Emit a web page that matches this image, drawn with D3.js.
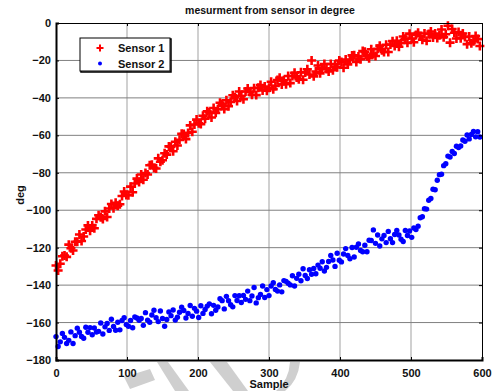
<!DOCTYPE html>
<html>
<head>
<meta charset="utf-8">
<script src="https://cdn.jsdelivr.net/npm/d3@7"></script>
<style>
  body { margin: 0; background: #fff; }
  svg text { font-family: "Liberation Sans", Arial, sans-serif; font-weight: bold; fill: #111; }
</style>
</head>
<body>
<div id="chart"></div>
<script>
// sample numbers (every 3rd sample shown)
const samples = d3.range(0, 600, 3);

// Sensor 1, deg
const sensor1 = [
  -129.5, -132.2, -128.6, -124.6, -124.2, -124.9, -118.4, -120.3, -121.5, -116.8,
  -116.8, -113, -116.4, -114, -110.3, -108.1, -110.9, -108.1, -109.6, -104.6,
  -102.7, -103.8, -104.7, -100.6, -103.6, -99.1, -96.7, -98.9, -96, -97.6,
  -96.8, -92.4, -90, -91.9, -92, -87.4, -90.4, -85.7, -83.1, -84.9,
  -80.9, -83.7, -80.1, -80.9, -76, -75.7, -77.4, -77.7, -72.3, -74.1,
  -73.3, -69.6, -70.3, -65.9, -66.1, -68.5, -63.4, -65.4, -62.4, -59.2,
  -59.3, -62, -58.7, -54.7, -58.1, -54.2, -51.6, -53.6, -54, -49.5,
  -51.1, -47.2, -47.8, -50.5, -45.4, -48, -46.1, -42.6, -43.2, -46,
  -41.3, -44.4, -42.2, -38.6, -39.6, -41.7, -36.6, -39, -40.7, -36.6,
  -35, -36.8, -38.3, -34.8, -38.5, -34.6, -33.1, -36, -33.9, -36.2,
  -34.6, -31.4, -35.4, -33.6, -30.5, -29.3, -32.8, -30.6, -32.7, -28.3,
  -32.1, -28.3, -26.6, -29.1, -30, -26.3, -30.3, -26.4, -24.7, -27.5,
  -20, -28.5, -25.9, -22.7, -26.9, -23.9, -21.9, -24.6, -25.9, -21.9,
  -25.2, -22.2, -23.7, -20, -20.8, -23.9, -19.5, -22.1, -19.8, -17.3,
  -17.2, -20.8, -17.9, -19.3, -15, -15.4, -17.7, -18.8, -14, -16.4,
  -17.6, -13.8, -12.1, -14.6, -15.5, -11.6, -15.5, -11.5, -9.7, -12.3,
  -9.5, -12.7, -10.7, -7.2, -8.4, -10.6, -5.7, -8.3, -10.3, -6.4,
  -5.2, -7.1, -8.9, -5.6, -9.5, -5.9, -4.5, -7.7, -5.6, -8,
  -6.6, -3.5, -7.6, -6, -1.5, -10.5, -3.2, -5.2, -8.3, -4.8,
  -8.1, -5.6, -7.5, -11.3, -7.2, -10.8, -9.7, -7, -8.6, -12.3
];

// Sensor 2, deg
const sensor2 = [
  -167.5, -172.8, -170.3, -165.8, -167.9, -171.2, -169.5, -165, -171.2, -167,
  -163, -165.2, -167.4, -168.4, -162.5, -165.2, -162.7, -166.5, -162.9, -165.1,
  -164.7, -160.2, -166.1, -162.3, -160.5, -164.2, -158.2, -162.1, -164.1, -159.8,
  -163.9, -158.9, -157.4, -161.1, -162, -158.9, -162.8, -157, -157.6, -158.8,
  -157.8, -161.5, -154.7, -158.7, -159.8, -156, -153.4, -157.4, -159.5, -153.8,
  -157.8, -162, -158.4, -154.3, -156.3, -153.3, -158.7, -157.2, -154.5, -151.8,
  -153.6, -157.6, -155.1, -150.9, -156.6, -152.4, -153.9, -157.3, -151, -155.1,
  -153, -151.2, -150, -155.3, -150.8, -153.4, -151.7, -147.3, -148.3, -152.7,
  -146, -148.3, -150.5, -151.6, -145.6, -148.2, -145.7, -149.3, -145.5, -147.6,
  -143.2, -148.3, -145.8, -141.3, -149.5, -146.7, -145, -140.5, -146.6, -142.4,
  -145.6, -140.5, -138.7, -142.3, -143.2, -139.9, -143.6, -137.6, -138, -139,
  -139.9, -135, -140.5, -136.4, -134.2, -137.7, -131.3, -134.8, -136.5, -131.8,
  -134.2, -131.1, -133.9, -129.3, -131, -127.5, -132.5, -130.5, -127.4, -124.2,
  -126.6, -130, -123, -126.7, -127.6, -123.4, -120.5, -124.2, -125.9, -119.9,
  -125, -119.8, -118, -121.5, -122.2, -118.7, -122.2, -116, -116.2, -110.5,
  -117.7, -113.2, -119.1, -115.3, -113.5, -117.3, -111.3, -115.2, -117.3, -113,
  -110.8, -113.2, -115.5, -116.7, -110.8, -113.5, -111.1, -114.5, -109.5, -110.3,
  -108.5, -104, -103.5, -99.2, -99.4, -94.7, -93.7, -88.8, -89.1, -84,
  -81, -80.8, -76.2, -75.2, -71.1, -71.6, -68.6, -69.7, -65.8, -66.5,
  -65.7, -62.5, -63.2, -59.8, -61.9, -59.5, -57.9, -60.8, -58.1, -60.9
];

const xTicks = [0, 100, 200, 300, 400, 500, 600];
const yTicks = [-180, -160, -140, -120, -100, -80, -60, -40, -20, 0];
const seriesNames = ["Sensor 1", "Sensor 2"];

const W = 496, H = 391;
const pLeft = 56, pRight = 482, pTop = 23, pBottom = 360;

const svg = d3.select("#chart").append("svg")
  .attr("width", W).attr("height", H);

// faint watermark shapes peeking out below the axes
const mark = svg.append("g").attr("fill", "#cfcfcf");
mark.append("path").attr("d", "M157,362L168,362L189,391L175,391Z");
mark.append("path").attr("d", "M124,377L150,369L155,380L130,389Z");
mark.append("path").attr("d", "M210,362L227,362L248,391L233,391Z");
mark.append("path").attr("d", "M290,362L300,362Q298,381,285,391L276,391Q289,380,290,362Z");

const x = d3.scaleLinear().domain([0, 600]).range([pLeft, pRight]);
const y = d3.scaleLinear().domain([-180, 0]).range([pBottom, pTop]);

// plot area
svg.append("rect")
  .attr("x", pLeft).attr("y", pTop)
  .attr("width", pRight - pLeft).attr("height", pBottom - pTop)
  .attr("fill", "#fff");

// grid
svg.append("g")
  .selectAll("line").data(xTicks.slice(1, -1)).join("line")
  .attr("x1", d => x(d)).attr("x2", d => x(d))
  .attr("y1", pTop).attr("y2", pBottom)
  .attr("stroke", "#bcbcbc").attr("stroke-width", 1.4);
svg.append("g")
  .selectAll("line").data(yTicks.slice(1, -1)).join("line")
  .attr("x1", pLeft).attr("x2", pRight)
  .attr("y1", d => y(d)).attr("y2", d => y(d))
  .attr("stroke", "#808080").attr("stroke-width", 1);

// Sensor 1: red plus markers
svg.append("g")
  .selectAll("path").data(sensor1).join("path")
  .attr("transform", (d, i) => `translate(${x(samples[i])},${y(d)})`)
  .attr("d", "M-4.5,0H4.5M0,-4.5V4.5")
  .attr("stroke", "#ff0000").attr("stroke-width", 2.6).attr("fill", "none");

// Sensor 2: blue dots
svg.append("g")
  .selectAll("circle").data(sensor2).join("circle")
  .attr("cx", (d, i) => x(samples[i]))
  .attr("cy", d => y(d))
  .attr("r", 2.7)
  .attr("fill", "#0000ff");

// axes
const axB = svg.append("g").attr("transform", `translate(0,${pBottom})`)
  .call(d3.axisBottom(x).tickValues(xTicks).tickSize(-3).tickPadding(9));
const axL = svg.append("g").attr("transform", `translate(${pLeft},0)`)
  .call(d3.axisLeft(y).tickValues(yTicks).tickSize(-3).tickPadding(5));
const axT = svg.append("g").attr("transform", `translate(0,${pTop})`)
  .call(d3.axisTop(x).tickValues(xTicks).tickSize(-3).tickFormat(""));
const axR = svg.append("g").attr("transform", `translate(${pRight},0)`)
  .call(d3.axisRight(y).tickValues(yTicks).tickSize(-3).tickFormat(""));

[axB, axL, axT, axR].forEach(a => {
  a.select(".domain").attr("stroke", "#000");
  a.selectAll(".tick line").attr("stroke", "#000");
});
axB.select(".domain").attr("stroke-width", 2);
axL.select(".domain").attr("stroke-width", 2);
axB.selectAll("text").attr("font-size", 11).attr("font-family", null);
axL.selectAll("text").attr("font-size", 11).attr("font-family", null);

// title and labels
svg.append("text")
  .attr("x", 270).attr("y", 14)
  .attr("text-anchor", "middle").attr("font-size", 10.5)
  .text("mesurment from sensor in degree");
svg.append("text")
  .attr("x", 269).attr("y", 388)
  .attr("text-anchor", "middle").attr("font-size", 11)
  .text("Sample");
svg.append("text")
  .attr("transform", "translate(24,195) rotate(-90)")
  .attr("text-anchor", "middle").attr("font-size", 11)
  .text("deg");

// legend
const lg = svg.append("g");
lg.append("rect")
  .attr("x", 81).attr("y", 39).attr("width", 90).attr("height", 33)
  .attr("fill", "none").attr("stroke", "#000").attr("stroke-width", 1.5);
lg.append("rect")
  .attr("x", 80).attr("y", 38).attr("width", 90).attr("height", 33)
  .attr("fill", "#fff").attr("stroke", "#000").attr("stroke-width", 1);
const rows = lg.selectAll("g.row").data(seriesNames).join("g")
  .attr("transform", (d, i) => `translate(0,${48 + i * 15.5})`);
rows.each(function(d, i) {
  const g = d3.select(this);
  if (i === 0) {
    g.append("path").attr("transform", "translate(100,0)")
      .attr("d", "M-3.5,0H3.5M0,-3.5V3.5")
      .attr("stroke", "#ff0000").attr("stroke-width", 2);
  } else {
    g.append("circle").attr("cx", 100).attr("cy", 0).attr("r", 2).attr("fill", "#0000ff");
  }
  g.append("text").attr("x", 118).attr("y", 4).attr("font-size", 11).text(d);
});
</script>
</body>
</html>
